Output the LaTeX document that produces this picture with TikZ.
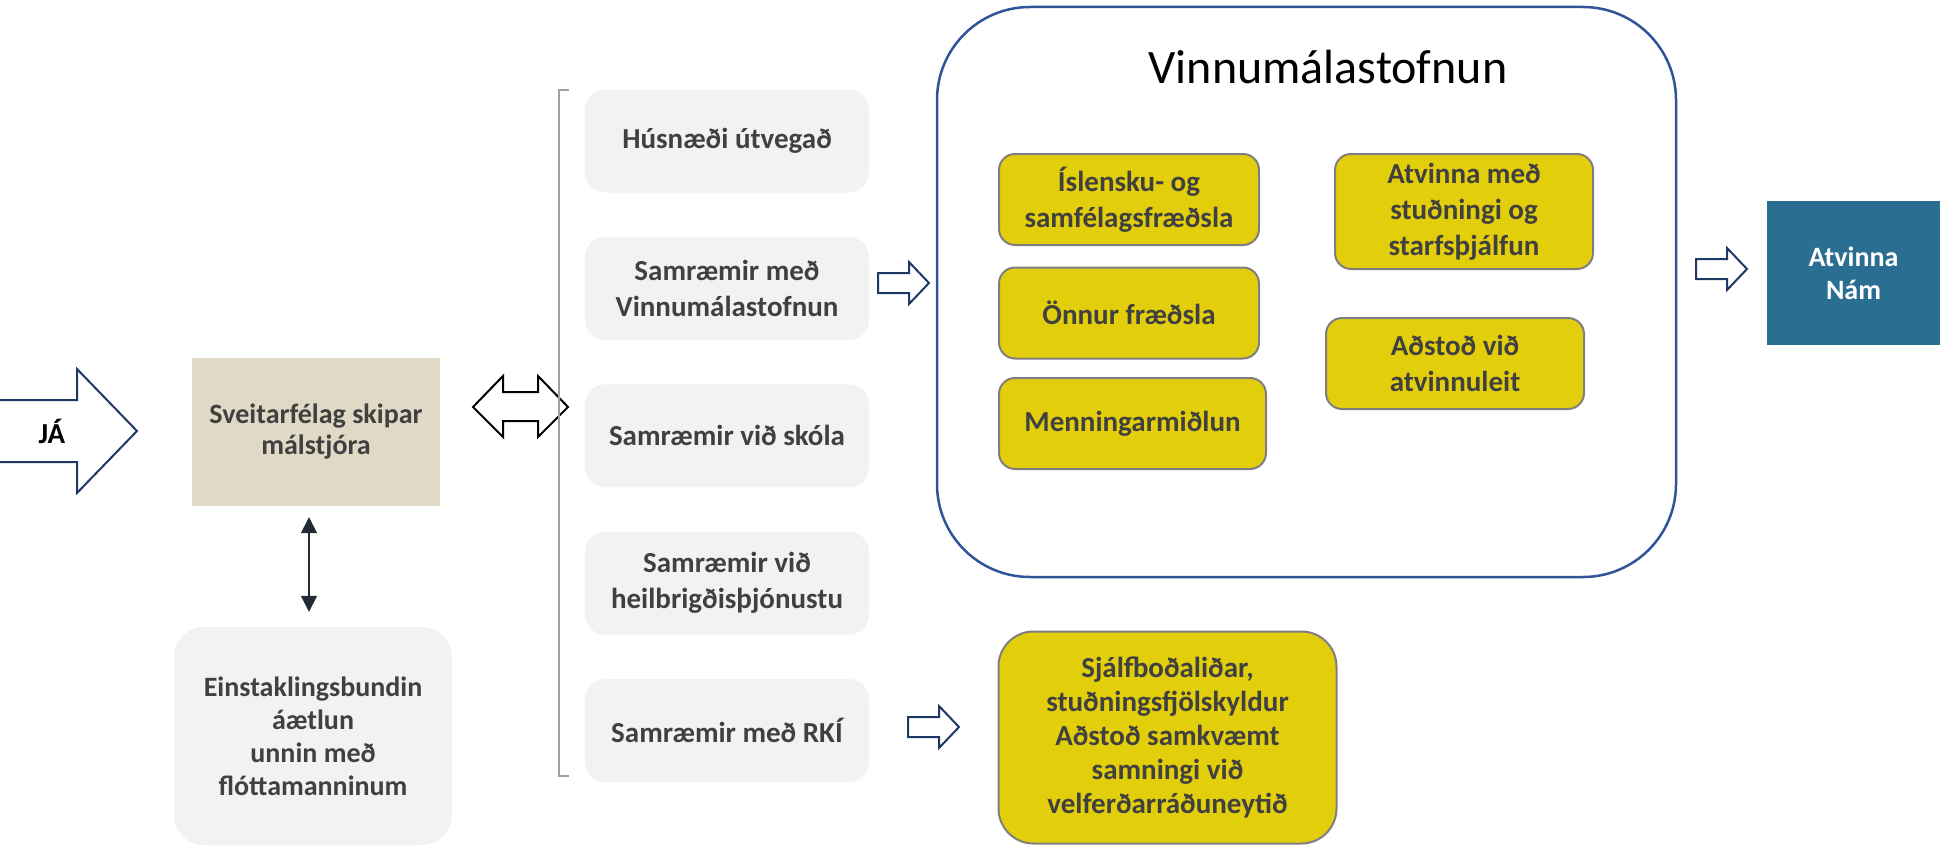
\documentclass[tikz,border=0pt]{standalone}
\usepackage{fontspec}
\setmainfont{Carlito}
\usetikzlibrary{positioning,arrows.meta}
\definecolor{textgray}{HTML}{404040}
\definecolor{tanfill}{HTML}{E0D9C5}
\definecolor{boxgray}{HTML}{F2F2F2}
\definecolor{vmyellow}{HTML}{E3CE0C}
\definecolor{edgegray}{HTML}{7F7F7F}
\definecolor{vmblue}{HTML}{2F5597}
\definecolor{arrownavy}{HTML}{203864}
\definecolor{steel}{HTML}{2A6F92}
\definecolor{slate}{HTML}{222A35}
\definecolor{bracketgray}{HTML}{A0A0A0}

\tikzset{
  txt/.style={align=center,inner sep=0pt,text=textgray,
    font=\fontsize{29}{36}\selectfont\bfseries},
  graybox/.style={txt,fill=boxgray,rounded corners=20pt,
    minimum width=284pt,minimum height=103pt},
  yellowbox/.style={txt,fill=vmyellow,draw=edgegray,line width=2pt,
    rounded corners=16pt,minimum width=258pt,minimum height=91pt},
  hollow/.style={draw=arrownavy,line width=2pt,fill=white},
  rpil/.pic={\draw[hollow] (0,-10) -- (31,-10) -- (31,-21) -- (51,0)
    -- (31,21) -- (31,10) -- (0,10) -- cycle;}
}

\begin{document}
\begin{tikzpicture}[x=1pt,y=-1pt]
  \useasboundingbox (0,0) rectangle (1949,851);

  % Inngangur
  \draw[hollow] (0,400) -- (77,400) -- (77,369) -- (137,431)
    -- (77,493) -- (77,462) -- (0,462);
  \node[txt,text=black] (ja) at (52,431) {JÁ};

  % Sveitarfélag og áætlun
  \node[txt,fill=tanfill,minimum width=248pt,minimum height=148pt,
    font=\fontsize{28}{31}\selectfont\bfseries] (sveit) at (316,432)
    {Sveitarfélag skipar\\málstjóra};
  \node[txt,fill=boxgray,rounded corners=30pt,minimum width=278pt,
    minimum height=218pt,font=\fontsize{28}{33}\selectfont\bfseries] (einst) at (313,736)
    {Einstaklingsbundin\\áætlun\\unnin með\\flóttamanninum};
  \draw[{Triangle[length=16pt,width=16pt]}-{Triangle[length=16pt,width=16pt]},
    slate,line width=1.5pt,shorten <=11pt,shorten >=15pt]
    ([xshift=-7pt]sveit.south) -- ([xshift=-4pt]einst.north);

  % Tvíhliða ör
  \draw[line width=2pt,line join=miter] (473,407) -- (503,376) -- (503,392) -- (538,392)
    -- (538,376) -- (568,407) -- (538,437) -- (538,421) -- (503,421)
    -- (503,437) -- cycle;

  % Verkefni málstjóra
  \node[graybox] (hus) at (727,141) {Húsnæði útvegað};
  \node[graybox,below=44pt of hus] (vmsam) {Samræmir með\\Vinnumálastofnun};
  \node[graybox,below=44pt of vmsam] (skoli) {Samræmir við skóla};
  \node[graybox,below=44pt of skoli] (heilsa) {Samræmir við\\heilbrigðisþjónustu};
  \node[graybox,below=44pt of heilsa] (rki) {Samræmir með RKÍ};
  \draw[bracketgray,line width=2pt] (569,90) -- (559,90) -- (559,776) -- (569,776);

  % Vinnumálastofnun
  \node[draw=vmblue,line width=2.5pt,rounded corners=93pt,minimum width=739pt,
    minimum height=570pt] (vmst) at (1306.5,292) {};
  \node[anchor=base,inner sep=0pt,font=\fontsize{48}{52}\selectfont] (titill) at (1328,83)
    {Vinnumálastofnun};
  \node[yellowbox,minimum width=260pt] (isl) at (1129,199.5) {Íslensku- og\\samfélagsfræðsla};
  \node[yellowbox,minimum width=260pt] (onnur) at (1129,313) {Önnur fræðsla};
  \node[yellowbox,minimum width=267pt] (menn) at (1132.5,423.5) {Menningarmiðlun};
  \node[yellowbox,minimum height=115pt] (studn) at (1464,211.5)
    {Atvinna með\\stuðningi og\\starfsþjálfun};
  \node[yellowbox] (leit) at (1455,363.5) {Aðstoð við\\atvinnuleit};

  \node[yellowbox,rounded corners=35pt,minimum width=338pt,minimum height=212pt,
    font=\fontsize{29}{34}\selectfont\bfseries]
    (sjalf) at (1167.5,737.5)
    {Sjálfboðaliðar,\\stuðningsfjölskyldur\\Aðstoð samkvæmt\\samningi við\\velferðarráðuneytið};

  \node[txt,fill=steel,text=white,minimum width=173pt,minimum height=144pt,
    font=\fontsize{28}{33}\selectfont\bfseries]
    (nam) at (1853.5,273) {Atvinna\\Nám};

  % Örvar
  \pic (p1) at (878,283) {rpil};
  \pic (p2) at (908,727) {rpil};
  \pic (p3) at (1696,269) {rpil};
\end{tikzpicture}
\end{document}
